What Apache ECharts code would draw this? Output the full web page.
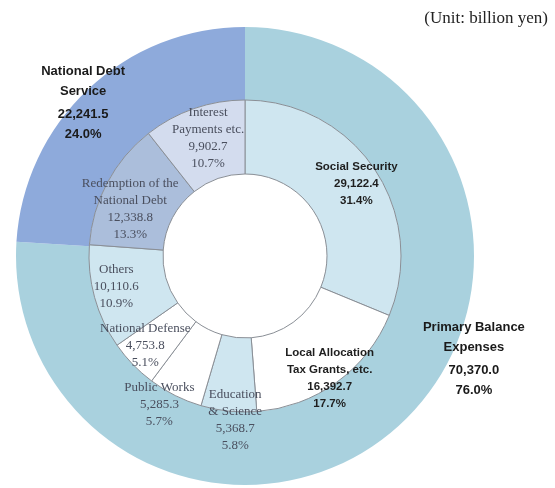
<!DOCTYPE html>
<html>
<head>
<meta charset="utf-8">
<script src="https://cdn.jsdelivr.net/npm/echarts@6/dist/echarts.min.js"></script>
<style>
  html, body { margin: 0; padding: 0; background: #fff; }
  #chart { width: 555px; height: 488px; }
</style>
</head>
<body>
<div id="chart"></div>
<script>
// General account expenditure breakdown (billion yen)
const outerNames = ['Primary Balance\nExpenses', 'National Debt\nService'];
const outerValues = [70370.0, 22241.5];
const outerShares = ['76.0%', '24.0%'];

const innerNames = [
  'Social Security',
  'Local Allocation\nTax Grants, etc.',
  'Education\n& Science',
  'Public Works',
  'National Defense',
  'Others',
  'Redemption of the\nNational Debt',
  'Interest\nPayments etc.'
];
const innerValues = [29122.4, 16392.7, 5368.7, 5285.3, 4753.8, 10110.6, 12338.8, 9902.7];
const innerShares = ['31.4%', '17.7%', '5.8%', '5.7%', '5.1%', '10.9%', '13.3%', '10.7%'];

// styling
const outerColors = ['#a9d1de', '#8eaadb'];
const innerColors = ['#cfe6f0', '#ffffff', '#cfe6f0', '#ffffff', '#ffffff', '#cfe6f0', '#abbedb', '#d3dcee'];
const innerBold = [true, true, false, false, false, false, false, false];
const innerShift = [[10, -4], [13, 24], [3, 43], [-31, 39], [-12, 5], [-11, -2], [-7, 10], [3, -3]];
const outerShift = [[95, -40], [-28, -11]];

const fmt = v => v.toLocaleString('en-US', { minimumFractionDigits: 1, maximumFractionDigits: 1 });

const boldLabel = {
  fontFamily: 'Liberation Sans, Arial, sans-serif',
  fontWeight: 'bold',
  fontSize: 11.5,
  lineHeight: 17,
  color: '#1e1e1e'
};
const serifLabel = {
  fontFamily: 'Liberation Serif, Times New Roman, serif',
  fontWeight: 'normal',
  fontSize: 13,
  lineHeight: 17,
  color: '#4a4f5e'
};

const innerData = innerNames.map((name, i) => ({
  name: name,
  value: innerValues[i],
  itemStyle: { color: innerColors[i] },
  label: Object.assign({
    show: true,
    position: 'inside',
    formatter: name + '\n' + fmt(innerValues[i]) + '\n' + innerShares[i]
  }, innerBold[i] ? boldLabel : serifLabel)
}));

const outerData = outerNames.map((name, i) => ({
  name: name,
  value: outerValues[i],
  itemStyle: { color: outerColors[i] },
  label: {
    show: true,
    position: 'inside',
    formatter: name.split('\n').map(s => '{n|' + s + '}').join('\n') +
      '\n{g| }\n{n|' + fmt(outerValues[i]) + '}\n{n|' + outerShares[i] + '}',
    rich: {
      n: {
        fontFamily: 'Liberation Sans, Arial, sans-serif',
        fontWeight: 'bold',
        fontSize: 13,
        lineHeight: 20,
        color: '#1a1a1a'
      },
      g: { fontSize: 1, lineHeight: 3 }
    }
  }
}));

const chart = echarts.init(document.getElementById('chart'), null, { renderer: 'canvas' });
chart.setOption({
  animation: false,
  backgroundColor: '#ffffff',
  title: {
    text: '(Unit: billion yen)',
    right: 2,
    top: 5,
    textStyle: {
      fontFamily: 'Liberation Serif, Times New Roman, serif',
      fontWeight: 'normal',
      fontSize: 17,
      color: '#222'
    }
  },
  series: [
    {
      type: 'pie',
      center: [245, 256],
      radius: [156, 229],
      startAngle: 90,
      clockwise: true,
      silent: true,
      avoidLabelOverlap: false,
      emphasis: { disabled: true },
      itemStyle: { borderWidth: 0 },
      labelLine: { show: false },
      labelLayout: p => ({ dx: outerShift[p.dataIndex][0], dy: outerShift[p.dataIndex][1] }),
      data: outerData
    },
    {
      type: 'pie',
      center: [245, 256],
      radius: [82, 156],
      startAngle: 90,
      clockwise: true,
      silent: true,
      avoidLabelOverlap: false,
      emphasis: { disabled: true },
      itemStyle: { borderColor: '#8a8f96', borderWidth: 1 },
      labelLine: { show: false },
      labelLayout: p => ({ dx: innerShift[p.dataIndex][0], dy: innerShift[p.dataIndex][1] }),
      data: innerData
    }
  ]
});
</script>
</body>
</html>
